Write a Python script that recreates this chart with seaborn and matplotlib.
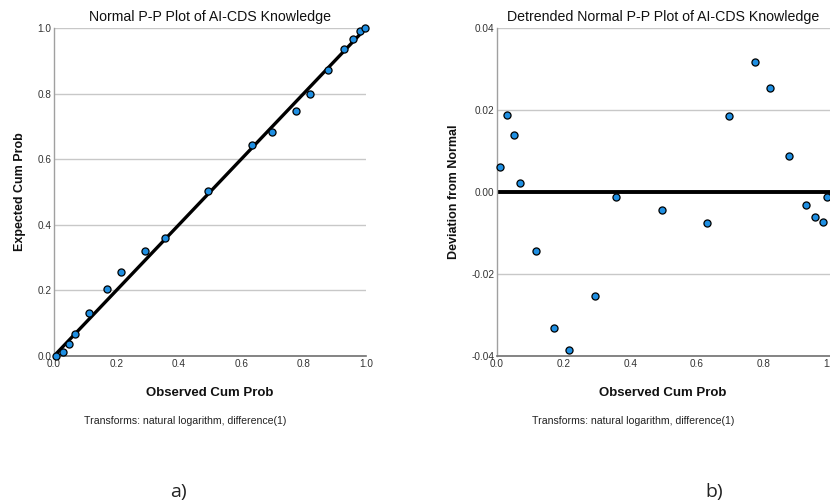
import matplotlib
matplotlib.use("Agg")
import matplotlib.pyplot as plt
import seaborn as sns
import pandas as pd

# ---- data ----
observed_a = [0.008, 0.029, 0.049, 0.068, 0.113, 0.169, 0.216, 0.293, 0.357, 0.495,
              0.634, 0.699, 0.776, 0.822, 0.879, 0.929, 0.959, 0.982, 0.997]
expected_a = [0.001, 0.012, 0.037, 0.068, 0.130, 0.204, 0.256, 0.321, 0.361, 0.503,
              0.644, 0.682, 0.747, 0.800, 0.872, 0.935, 0.966, 0.992, 1.000]

observed_b = [0.010, 0.031, 0.052, 0.070, 0.116, 0.170, 0.217, 0.294, 0.358, 0.496,
              0.632, 0.697, 0.775, 0.820, 0.877, 0.927, 0.955, 0.978, 0.992]
deviation_b = [0.0061, 0.0187, 0.0140, 0.0021, -0.0143, -0.0332, -0.0385, -0.0253, -0.0013, -0.0045,
               -0.0076, 0.0186, 0.0318, 0.0254, 0.0087, -0.0032, -0.0060, -0.0073, -0.0013]

ref_line_x = [0.0, 1.0]
ref_line_y = [0.0, 1.0]
zero_x = [0.0, 1.0]
zero_y = [0.0, 0.0]

xticks = [0.0, 0.2, 0.4, 0.6, 0.8, 1.0]
yticks_a = [0.0, 0.2, 0.4, 0.6, 0.8, 1.0]
yticks_b = [-0.04, -0.02, 0.00, 0.02, 0.04]

title_a = "Normal P-P Plot of AI-CDS Knowledge"
title_b = "Detrended Normal P-P Plot of AI-CDS Knowledge"
xlabel = "Observed Cum Prob"
ylabel_a = "Expected Cum Prob"
ylabel_b = "Deviation from Normal"
note = "Transforms: natural logarithm, difference(1)"
panel_labels = ["a)", "b)"]

sns.set_theme(style="white")
plt.rcParams['font.family'] = ['Liberation Sans', 'DejaVu Sans']

W, H = 830, 504
fig = plt.figure(figsize=(W / 100, H / 100), dpi=100)

def ax_rect(x0, y0, x1, y1):
    return [x0 / W, 1 - y1 / H, (x1 - x0) / W, (y1 - y0) / H]

ax1 = fig.add_axes(ax_rect(54, 28, 366, 356))
ax2 = fig.add_axes(ax_rect(497, 28, 830, 356))

marker_color = "#1f8fe2"
grid_color = "#c8c8c8"
tick_color = "#333333"

df_a = pd.DataFrame({"obs": observed_a, "exp": expected_a})
df_b = pd.DataFrame({"obs": observed_b, "dev": deviation_b})

# panel a
sns.lineplot(x=ref_line_x, y=ref_line_y, ax=ax1, color="black", linewidth=2.4, zorder=2)
sns.scatterplot(data=df_a, x="obs", y="exp", ax=ax1, color=marker_color, edgecolor="black",
                linewidth=0.9, s=26, zorder=3, clip_on=False)
ax1.set_xlim(0, 1)
ax1.set_ylim(0, 1)
ax1.set_yticks(yticks_a)
ax1.set_yticklabels([f"{v:.1f}" for v in yticks_a])

# panel b
sns.lineplot(x=zero_x, y=zero_y, ax=ax2, color="black", linewidth=2.8, zorder=2)
sns.scatterplot(data=df_b, x="obs", y="dev", ax=ax2, color=marker_color, edgecolor="black",
                linewidth=0.9, s=26, zorder=3, clip_on=False)
ax2.set_xlim(0, 1)
ax2.set_ylim(-0.04, 0.04)
ax2.set_yticks(yticks_b)
ax2.set_yticklabels([f"{v:.2f}" for v in yticks_b])

for ax, ttl, yl in [(ax1, title_a, ylabel_a), (ax2, title_b, ylabel_b)]:
    ax.set_xticks(xticks)
    ax.set_xticklabels([f"{v:.1f}" for v in xticks])
    ax.yaxis.grid(True, color=grid_color, linewidth=1.0)
    ax.xaxis.grid(False)
    ax.set_axisbelow(True)
    for s in ["top", "right"]:
        ax.spines[s].set_visible(False)
    ax.spines["left"].set_color("#a0a0a0")
    ax.spines["bottom"].set_color("#707070")
    ax.spines["left"].set_linewidth(1.0)
    ax.spines["bottom"].set_linewidth(1.2)
    ax.tick_params(axis="both", length=0, labelsize=7.2, colors=tick_color, pad=2)
    ax.set_xlabel("")
    ax.set_ylabel("")
    ax.set_title(ttl, fontsize=10.2, pad=5, color="#111111")

ax1.set_ylabel(ylabel_a, fontsize=9, fontweight="bold", labelpad=8, color="#111111")
ax2.set_ylabel(ylabel_b, fontsize=9, fontweight="bold", labelpad=8, color="#111111")

fig.text(210 / W, 1 - 393 / H, xlabel, ha="center", va="center", fontsize=9.5, fontweight="bold", color="#111111")
fig.text(663 / W, 1 - 393 / H, xlabel, ha="center", va="center", fontsize=9.5, fontweight="bold", color="#111111")
fig.text(185 / W, 1 - 421 / H, note, ha="center", va="center", fontsize=7.6, color="#222222")
fig.text(633 / W, 1 - 421 / H, note, ha="center", va="center", fontsize=7.6, color="#222222")
fig.text(178 / W, 1 - 492 / H, panel_labels[0], ha="center", va="center", fontsize=14,
         family=["Open Sans", "DejaVu Sans"], color="#222222")
fig.text(714 / W, 1 - 492 / H, panel_labels[1], ha="center", va="center", fontsize=14,
         family=["Open Sans", "DejaVu Sans"], color="#222222")

fig.savefig("out.png", dpi=100)
